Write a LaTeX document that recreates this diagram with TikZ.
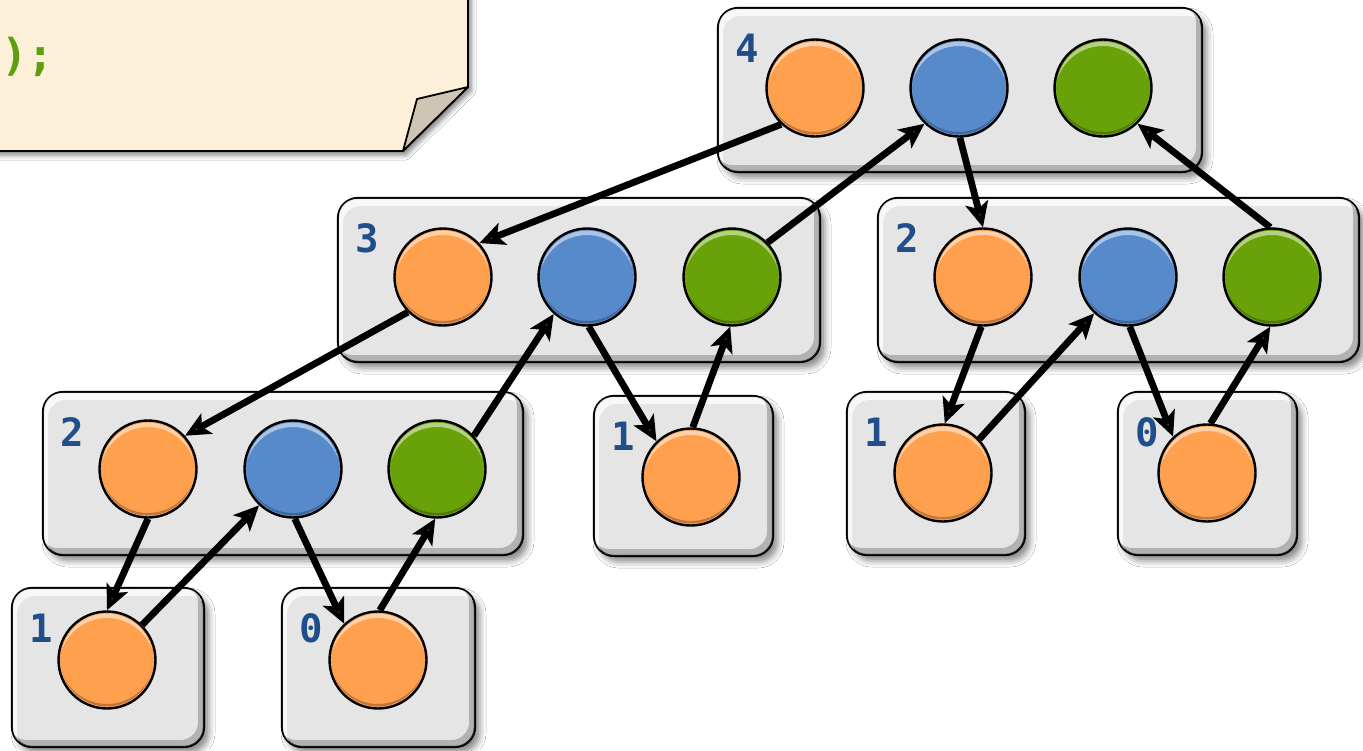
\documentclass[tikz,border=0pt]{standalone}
\usepackage{fontspec}
\usetikzlibrary{arrows.meta,shadows.blur}
\newfontfamily\codefont{DejaVu Sans Mono}

\definecolor{boxgray}{HTML}{E5E5E5}
\definecolor{ballorange}{HTML}{FFA04F}
\definecolor{ballblue}{HTML}{578ACB}
\definecolor{ballgreen}{HTML}{69A208}
\definecolor{lblblue}{HTML}{1F4E8A}
\definecolor{codegreen}{HTML}{5F9E0E}
\definecolor{papercream}{HTML}{FCF0D8}
\definecolor{paperflap}{HTML}{CEC5B4}

\tikzset{
  framebox/.style={draw=black, line width=2.2pt, fill=boxgray, rounded corners=20pt,
    inner sep=0pt,
    blur shadow={shadow xshift=5pt, shadow yshift=-6pt, shadow blur radius=6pt, shadow opacity=45}},
  ballnode/.style={circle, draw=black, line width=2.4pt, minimum size=97pt, inner sep=0pt},
  lbl/.style={font=\codefont\bfseries\fontsize{39}{39}\selectfont, text=lblblue, inner sep=0pt},
  arr/.style={line width=6.8pt, -{Stealth[length=25pt, width=23pt, inset=6pt]}},
}

% name, centre x, centre y, width, height, label
\newcommand\framedlevel[6]{%
  \node[framebox, minimum width=#4pt, minimum height=#5pt] (#1) at (#2,#3) {};
  \begin{scope}
    \clip[rounded corners=18pt] ([xshift=2pt,yshift=2pt]#1.south west) rectangle ([xshift=-2pt,yshift=-2pt]#1.north east);
    \fill[white, opacity=.75, even odd rule, rounded corners=18pt]
      ([xshift=2pt,yshift=2pt]#1.south west) rectangle ([xshift=-2pt,yshift=-2pt]#1.north east)
      ([xshift=6pt,yshift=-3pt]#1.south west) rectangle ([xshift=2pt,yshift=-9pt]#1.north east);
    \fill[black, opacity=.22, even odd rule, rounded corners=18pt]
      ([xshift=2pt,yshift=2pt]#1.south west) rectangle ([xshift=-2pt,yshift=-2pt]#1.north east)
      ([xshift=-2pt,yshift=8pt]#1.south west) rectangle ([xshift=-7pt,yshift=2pt]#1.north east);
  \end{scope}
  \node[lbl] (#1-lbl) at ([xshift=30pt,yshift=-41pt]#1.north west) {#6};
}

% name, x, y, colour
\newcommand\ball[4]{%
  \node[ballnode, fill=#4] (#1) at (#2,#3) {};
  \begin{scope}
    \clip (#1.center) circle (46.5pt);
    \fill[white, opacity=.5, even odd rule]
      (#1.center) circle (46.5pt) ([yshift=-6pt]#1.center) circle (48pt);
    \fill[black, opacity=.25, even odd rule]
      (#1.center) circle (46.5pt) ([yshift=4pt]#1.center) circle (48pt);
  \end{scope}
}

\begin{document}
\begin{tikzpicture}[x=1pt, y=-1pt]
\useasboundingbox (0,0) rectangle (1363,750);
\fill[white] (0,0) rectangle (1363,750);

% note sheet with folded corner
\fill[papercream, blur shadow={shadow xshift=3pt, shadow yshift=-4pt, shadow blur radius=5pt, shadow opacity=50}]
  (-10,-10) -- (468,-10) -- (468,87) -- (403,151) -- (-10,151) -- cycle;
\draw[line width=1.8pt] (468,-10) -- (468,87) -- (403,151) -- (-10,151);
\filldraw[fill=paperflap, line width=1.8pt, line join=round] (468,87) -- (417,99) -- (403,151) -- cycle;
\node[anchor=base west, inner sep=0pt, font=\codefont\bfseries\fontsize{44}{44}\selectfont, text=codegreen]
  (code) at (1,70) {);};

% recursion levels
\framedlevel{b4}{960}{90}{484}{164}{4}
\framedlevel{b3}{579}{280}{482}{164}{3}
\framedlevel{b2r}{1118.5}{280}{481}{164}{2}
\framedlevel{b2l}{283}{473.5}{480}{163}{2}
\framedlevel{b1m}{683.5}{476}{179}{160}{1}
\framedlevel{b1r}{936}{473.5}{178}{163}{1}
\framedlevel{b0r}{1207.5}{473.5}{179}{163}{0}
\framedlevel{b1b}{108}{667.5}{192}{159}{1}
\framedlevel{b0b}{378.5}{667.5}{193}{159}{0}

% balls
\ball{o4}{815}{88}{ballorange}
\ball{u4}{959}{88}{ballblue}
\ball{g4}{1103}{88}{ballgreen}
\ball{o3}{443}{277}{ballorange}
\ball{u3}{587}{277}{ballblue}
\ball{g3}{732}{277}{ballgreen}
\ball{o2r}{983}{277}{ballorange}
\ball{u2r}{1128}{277}{ballblue}
\ball{g2r}{1272}{277}{ballgreen}
\ball{o2l}{148}{469}{ballorange}
\ball{u2l}{293}{469}{ballblue}
\ball{g2l}{437}{469}{ballgreen}
\ball{o1m}{691}{477}{ballorange}
\ball{o1r}{943}{473}{ballorange}
\ball{o0r}{1207}{473}{ballorange}
\ball{o1b}{107}{660}{ballorange}
\ball{o0b}{378}{660}{ballorange}

% calls and returns
\draw[arr] (o4.227) -- (o3.43);
\draw[arr] (g3.44) -- (u4.226);
\draw[arr] (u4.271) -- (o2r.90);
\draw[arr] (g2r.92) -- (g4.314);
\draw[arr] (o3.225) -- (o2l.42);
\draw[arr] (g2l.42) -- (u3.228);
\draw[arr] (u3.272) -- (o1m.134);
\draw[arr] (o1m.88) -- (g3.268);
\draw[arr] (o2r.268) -- (o1r.88);
\draw[arr] (o1r.43) -- (u2r.227);
\draw[arr] (u2r.272) -- (o0r.133);
\draw[arr] (o0r.86) -- (g2r.268);
\draw[arr] (o2l.270) -- (o1b.90);
\draw[arr] (o1b.45) -- (u2l.227);
\draw[arr] (u2l.272) -- (o0b.133);
\draw[arr] (o0b.88) -- (g2l.268);
\end{tikzpicture}
\end{document}
